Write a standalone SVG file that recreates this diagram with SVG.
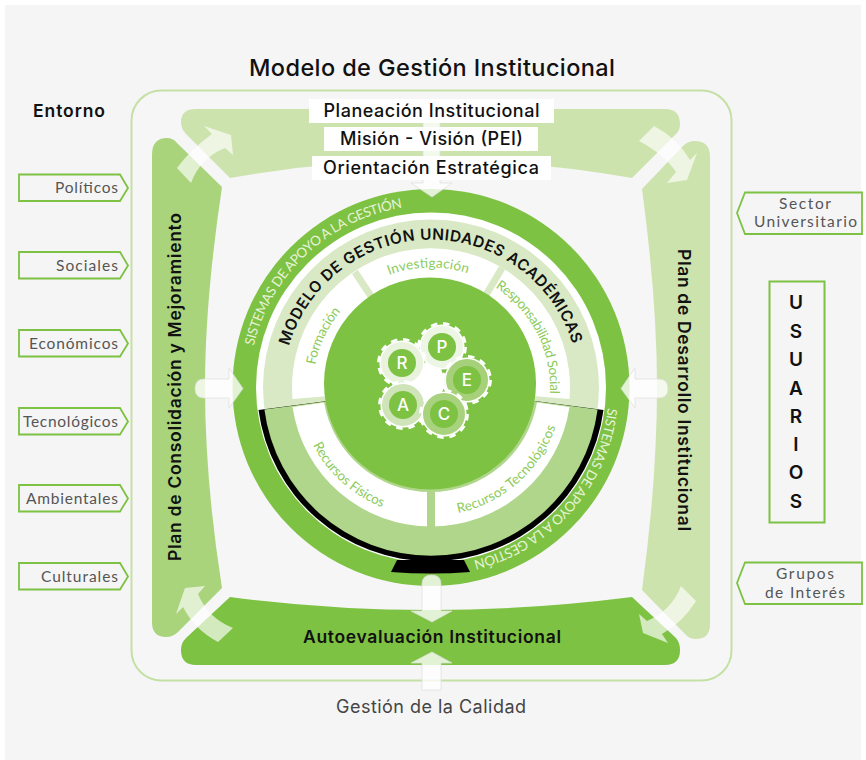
<svg xmlns="http://www.w3.org/2000/svg" width="866" height="760" viewBox="0 0 866 760">
<style>
text{font-family:"Inter","Liberation Sans",sans-serif}
.h{font-weight:500;fill:#111}
.s{font-weight:600;fill:#111}
.t{font-size:15.5px;fill:#555;font-family:"Lato","Liberation Sans",sans-serif}
.tag{fill:#F5F5F5;stroke:#7DC242;stroke-width:1.8}
.curve{font-family:"Lato","Liberation Sans",sans-serif;font-weight:400}
.lg{fill:#8CCB5A;font-size:13.5px}
.wh{fill:#E6F2D8;font-size:13.5px}
.arrow{fill:#fff;fill-opacity:.78;stroke:#DDD;stroke-width:.7}
.corner{fill:#fff;opacity:.66}
.letter{font-size:17px;fill:#fff;font-weight:500;text-anchor:middle}
.usr{font-size:19px;font-weight:600;fill:#111;text-anchor:middle}
</style>
<defs>
<path id="pSup" d="M253.8,345.9 A182,182 0 0 1 402.2,207.8"/>
<path id="pInf" d="M607.8,408 A178,178 0 0 1 473.2,560.4"/>
<path id="pMod" d="M289,346 A148,148 0 0 1 572.2,343.2"/>
<path id="pInv" d="M389,275.1 A120,120 0 0 1 468,273.4"/>
<path id="pFor" d="M315.2,365 A118,118 0 0 1 340.6,311.6"/>
<path id="pRes" d="M495.3,287.4 A119,119 0 0 1 549.8,393.7"/>
<path id="pFis" d="M313,445 A130.5,130.5 0 0 0 382,507"/>
<path id="pTec" d="M458,513 A130.5,130.5 0 0 0 555,428"/>
<g id="gear">
<circle r="23.6" fill="none" stroke="#fff" stroke-width="2.6" stroke-dasharray="6.5 5.9"/>
<circle r="21.8" stroke="#fff" stroke-width="1.6"/>
<circle r="14" fill="#7DC242"/>
</g>
</defs>
<rect width="866" height="760" fill="#fff"/>
<rect x="5" y="5" width="856" height="755" fill="#F5F5F5"/>
<rect x="131.5" y="90.5" width="600" height="590" rx="30" fill="#F6F6F6" stroke="#C5E0A5" stroke-width="2"/>

<g id="banda-superior"><path fill="#CDE3AE" d="M196,109 H665 Q680,109 680,124 Q680,130 676,134 L632,178 Q530,160 431,160 Q330,160 230,178 L186,134 Q181,129 181,122 Q181,109 196,109 Z"/></g>
<g id="banda-izquierda"><path fill="#A9D47C" d="M152,155 Q152,138 167,138 Q173,138 177,143 L222,187 Q205,300 205,387 Q205,480 222,588 L178,632 Q173,637 166,637 Q152,637 152,622 Z"/>
<text class="s" font-size="17.5" transform="translate(181,387) rotate(-90)" text-anchor="middle" textLength="348">Plan de Consolidación y Mejoramiento</text></g>
<g id="banda-derecha"><path fill="#CDE3AE" d="M710,157 Q710,141 695,141 Q688,141 683,146 L642,189 Q657,300 657,387 Q657,480 642,590 L685,634 Q689,639 696,639 Q710,639 710,624 Z"/>
<text class="s" font-size="17.5" transform="translate(678,390) rotate(90)" text-anchor="middle" textLength="282">Plan de Desarrollo Institucional</text></g>
<g id="banda-inferior"><path fill="#7DC242" d="M230,597 Q330,610 431,610 Q530,610 632,597 L676,638 Q680,643 680,650 Q680,665 665,665 H196 Q181,665 181,650 Q181,643 186,638 Z"/></g>

<g id="circulo">
<circle cx="431" cy="387.5" r="198.5" fill="#7DC242"/>
<circle cx="431" cy="387.5" r="175" fill="#fff"/>
<circle cx="431" cy="387.5" r="168" fill="#D9E9C5"/>
<path fill="#000" d="M431,387.5 L258.5,410 A174,174 0 0 0 603.5,410 Z"/>
<path fill="#AFD68A" d="M431,387.5 L264.4,409.4 A168,168 0 0 0 597.6,409.4 Z"/>
<path fill="#000" d="M397,560 H464 L470,572 Q431,575 391,572 Z"/>
<path fill="#fff" d="M431,387.5 L292.5,407 A140,140 0 0 0 569.5,407 Z"/>
<rect x="427" y="480" width="8" height="50" fill="#AFD68A"/>
<path fill="#fff" d="M431,387.5 L292.5,399 A139,139 0 1 1 569.5,399 Z"/>
<path stroke="#D9E9C5" stroke-width="7" fill="none" d="M355,272 L431,387.5 L502,268"/>
<path fill="#AFD68A" d="M324,402 A108,108 0 0 0 537,402 Z"/>
<circle cx="430" cy="383.5" r="106" fill="#7DC242"/>
<text class="curve wh"><textPath href="#pSup" textLength="215">SISTEMAS DE APOYO A LA GESTIÓN</textPath></text>
<text class="curve wh"><textPath href="#pInf" textLength="216">SISTEMAS DE APOYO A LA GESTIÓN</textPath></text>
<text class="s" font-size="15.5"><textPath href="#pMod" textLength="378">MODELO DE GESTIÓN UNIDADES ACADÉMICAS</textPath></text>
<text class="curve lg"><textPath href="#pInv" textLength="80">Investigación</textPath></text>
<text class="curve lg"><textPath href="#pFor" textLength="60">Formación</textPath></text>
<text class="curve lg"><textPath href="#pRes" textLength="125">Responsabilidad Social</textPath></text>
<text class="curve lg"><textPath href="#pFis" textLength="95">Recursos Físicos</textPath></text>
<text class="curve lg"><textPath href="#pTec" textLength="136">Recursos Tecnológicos</textPath></text>
</g>

<g id="engranajes">
<circle cx="427" cy="382" r="18" fill="#fff"/>
<g id="gear-P"><use href="#gear" x="442" y="347" fill="#EDF5E4"/><text class="letter" x="442" y="353">P</text></g>
<g id="gear-R"><use href="#gear" x="402" y="363" fill="#E8F2DC"/><text class="letter" x="402" y="369">R</text></g>
<g id="gear-E"><use href="#gear" x="467" y="380" fill="#A6D07A"/><text class="letter" x="467" y="386">E</text></g>
<g id="gear-A"><use href="#gear" x="403" y="405" fill="#CFE4B9"/><text class="letter" x="403" y="411">A</text></g>
<g id="gear-C"><use href="#gear" x="444" y="414" fill="#A9D27E"/><text class="letter" x="444" y="420">C</text></g>
</g>

<g id="connectors">
<path class="arrow" d="M423,100 H440 V183 H452 L432,197 L411,183 H423 Z"/>
<path class="arrow" d="M422,584 Q422,575 431.5,575 Q441,575 441,584 V611 H452 L432,622 L411,611 H422 Z"/>
<path class="arrow" d="M422,690 V663 H411 L432,652 L452,663 H441 V690 Z"/>
<path class="arrow" d="M204,379 H229 V368 L243,388.5 L229,408 V398 H204 Q195,398 195,388.5 Q195,379 204,379 Z"/>
<path class="arrow" d="M659,379 H635 V368 L621,388.5 L635,408 V398 H659 Q668,398 668,388.5 Q668,379 659,379 Z"/>
<path class="corner" d="M177,168 Q190,150 212,134 L204,126 L231,135 L233,155 L225,148 Q200,158 191,183 Z"/>
<path class="corner" d="M639,141 L654,126 Q677,138 690,160 L697,153 L687,180 L667,183 L676,172 Q665,155 639,141 Z"/>
<path class="corner" d="M233,628 L218,642 Q195,630 183,607 L176,614 L185,588 L205,586 L198,594 Q208,618 233,628 Z"/>
<path class="corner" d="M681,586 L696,601 Q683,622 662,634 L668,643 L643,633 L639,614 L647,621 Q672,610 681,586 Z"/>
</g>

<g id="planeacion"><rect x="309" y="99" width="245" height="24" fill="#fff"/><text class="h" font-size="18" x="431.5" y="117" text-anchor="middle" textLength="216">Planeación Institucional</text></g>
<g id="mision"><rect x="324" y="127" width="214" height="24" fill="#fff"/><text class="h" font-size="18" x="431.5" y="145" text-anchor="middle" textLength="183">Misión - Visión (PEI)</text></g>
<g id="orientacion"><rect x="312" y="156" width="239" height="24" fill="#fff"/><text class="h" font-size="18" x="431" y="174" text-anchor="middle" textLength="216">Orientación Estratégica</text></g>

<text id="titulo" class="h" font-size="23.5" x="432" y="76" text-anchor="middle" textLength="366">Modelo de Gestión Institucional</text>
<text id="entorno" class="s" font-size="17.5" x="33" y="117" textLength="72">Entorno</text>
<text id="autoevaluacion" class="s" font-size="17.5" x="432" y="643" text-anchor="middle" textLength="258">Autoevaluación Institucional</text>
<text id="calidad" font-size="18" fill="#444" x="431" y="713" text-anchor="middle" textLength="190">Gestión de la Calidad</text>

<g id="entorno-tags">
<g id="politicos"><path class="tag" d="M19,174.5 H120 L128,188 L120,201 H19 Z"/><text class="t" x="55" y="193" textLength="63">Políticos</text></g>
<g id="sociales"><path class="tag" d="M19,252 H120 L128,265.5 L120,278.5 H19 Z"/><text class="t" x="56" y="270.5" textLength="62">Sociales</text></g>
<g id="economicos"><path class="tag" d="M19,330 H120 L128,343.5 L120,356.5 H19 Z"/><text class="t" x="29" y="348.5" textLength="89">Económicos</text></g>
<g id="tecnologicos"><path class="tag" d="M19,408 H120 L128,421.5 L120,434.5 H19 Z"/><text class="t" x="23" y="426.5" textLength="95">Tecnológicos</text></g>
<g id="ambientales"><path class="tag" d="M19,485 H120 L128,498.5 L120,511.5 H19 Z"/><text class="t" x="26" y="503.5" textLength="92">Ambientales</text></g>
<g id="culturales"><path class="tag" d="M19,563 H120 L128,576.5 L120,589.5 H19 Z"/><text class="t" x="41" y="581.5" textLength="77">Culturales</text></g>
</g>

<g id="sector"><path class="tag" d="M745,192.5 H862 V234 H745 L737,213 Z"/><text class="t" x="779" y="209" textLength="52">Sector</text><text class="t" x="754" y="227" textLength="103">Universitario</text></g>
<g id="grupos"><path class="tag" d="M745,562.5 H862 V604 H745 L737,583 Z"/><text class="t" x="776" y="579" textLength="58">Grupos</text><text class="t" x="765" y="598" textLength="80">de Interés</text></g>
<g id="usuarios"><rect x="769.5" y="281.5" width="55" height="241" fill="#F5F5F5" stroke="#7DC242" stroke-width="2"/>
<text class="usr" x="796" y="309">U</text><text class="usr" x="796" y="338">S</text><text class="usr" x="796" y="366">U</text><text class="usr" x="796" y="395">A</text><text class="usr" x="796" y="423">R</text><text class="usr" x="796" y="451">I</text><text class="usr" x="796" y="479">O</text><text class="usr" x="796" y="508">S</text></g>
</svg>
